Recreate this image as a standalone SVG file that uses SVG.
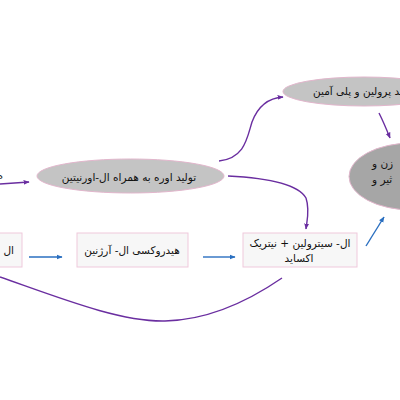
<svg xmlns="http://www.w3.org/2000/svg" width="400" height="400" viewBox="0 0 400 400">
<style>
.ell{fill:#c4c4c4;stroke:#e2b6cc;stroke-width:1}
.ell2{fill:#a6a6a6;stroke:#e2b6cc;stroke-width:1}
.box{fill:#f7f7f7;stroke:#efc9dc;stroke-width:1}
.t{font-family:"DejaVu Sans",sans-serif;font-size:10.5px;fill:#111}
.p{fill:none;stroke:#6a2ea0;stroke-width:1.4}
.b{fill:none;stroke:#2a6fc0;stroke-width:1.4}
</style>
<defs>
<marker id="ap" viewBox="0 0 10 10" refX="9" refY="5" markerWidth="6" markerHeight="6" markerUnits="userSpaceOnUse" orient="auto"><path d="M0,1 L10,5 L0,9 Z" fill="#6a2ea0"/></marker>
<marker id="ab" viewBox="0 0 10 10" refX="9" refY="5" markerWidth="6" markerHeight="6" markerUnits="userSpaceOnUse" orient="auto"><path d="M0,1 L10,5 L0,9 Z" fill="#2a6fc0"/></marker>
</defs>
<g id="connectors">
<path class="p" d="M0,184 L29,182" marker-end="url(#ap)"/>
<path class="p" d="M219,161 C245,158 247,138 252,122 C258,106 268,98 283,97" marker-end="url(#ap)"/>
<path class="p" d="M228,176 C268,178 298,184 306,198 C310,210 307,220 306,229" marker-end="url(#ap)"/>
<path class="p" d="M379,113 Q384,123 390,138" marker-end="url(#ap)"/>
<path class="p" d="M0,277 C60,298 120,322 165,321 C210,320 250,300 282,278"/>
<path class="b" d="M29,257 L62,257" marker-end="url(#ab)"/>
<path class="b" d="M203,257 L235,257" marker-end="url(#ab)"/>
<path class="b" d="M366,246 L384,217" marker-end="url(#ab)"/>
</g>
<g id="n-left-text"><text class="t" x="3" y="179" text-anchor="end">ه</text></g>
<g id="n-urea">
<ellipse class="ell" cx="130.5" cy="176" rx="93.5" ry="17"/>
<text class="t" x="129" y="181" text-anchor="middle">تولید اوره به همراه ال-اورنیتین</text>
</g>
<g id="n-proline">
<ellipse class="ell" cx="364" cy="91.5" rx="81" ry="14.5"/>
<text class="t" x="313" y="95">تولید پرولین و پلی آمین</text>
</g>
<g id="n-right">
<ellipse class="ell2" cx="412" cy="176.5" rx="63" ry="33.5"/>
<text class="t" x="372" y="167">زن و</text>
<text class="t" x="372" y="183">ثیر و</text>
</g>
<g id="n-box1">
<rect class="box" x="-10" y="233" width="32" height="34"/>
<text class="t" x="14" y="254" text-anchor="end">ال</text>
</g>
<g id="n-box2">
<rect class="box" x="77" y="233" width="111" height="34"/>
<text class="t" x="132" y="254" text-anchor="middle">هیدروکسی ال- آرژنین</text>
</g>
<g id="n-box3">
<rect class="box" x="243" y="233" width="114" height="34"/>
<text class="t" x="300" y="247" text-anchor="middle">ال- سیترولین + نیتریک</text>
<text class="t" x="299" y="262" text-anchor="middle">اکساید</text>
</g>
</svg>
